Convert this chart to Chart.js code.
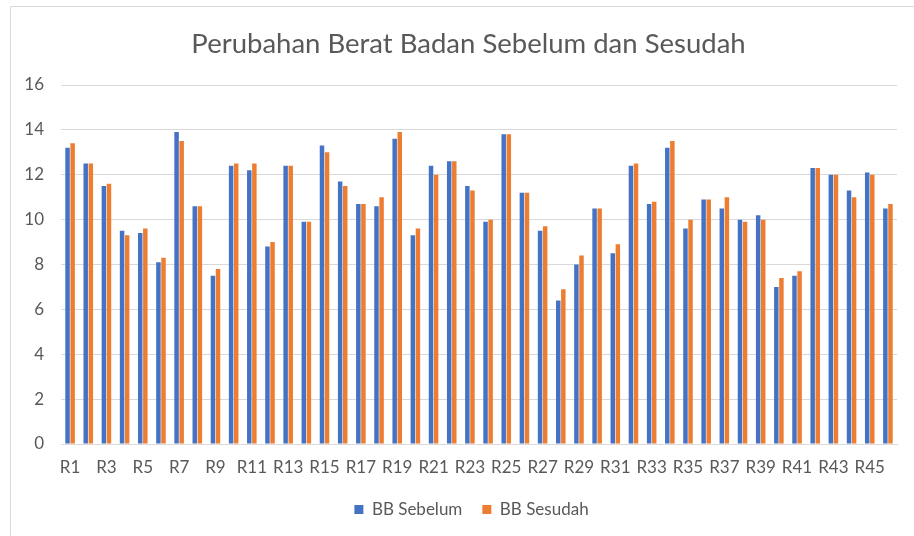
<!DOCTYPE html>
<html>
<head>
<meta charset="utf-8">
<script src="https://cdn.jsdelivr.net/npm/chart.js@4"></script>
<style>
  html, body { margin: 0; padding: 0; background: #fff; }
  #wrap { position: absolute; left: 0; top: 0; width: 914px; height: 536px; }
</style>
</head>
<body>
<div id="wrap"><canvas id="c" width="914" height="536"></canvas></div>
<script>
const categories = ["R1","R2","R3","R4","R5","R6","R7","R8","R9","R10","R11","R12","R13","R14","R15","R16","R17","R18","R19","R20","R21","R22","R23","R24","R25","R26","R27","R28","R29","R30","R31","R32","R33","R34","R35","R36","R37","R38","R39","R40","R41","R42","R43","R44","R45","R46"];
const bbSebelum = [13.2,12.5,11.5,9.5,9.4,8.1,13.9,10.6,7.5,12.4,12.2,8.8,12.4,9.9,13.3,11.7,10.7,10.6,13.6,9.3,12.4,12.6,11.5,9.9,13.8,11.2,9.5,6.4,8.0,10.5,8.5,12.4,10.7,13.2,9.6,10.9,10.5,10.0,10.2,7.0,7.5,12.3,12.0,11.3,12.1,10.5];
const bbSesudah = [13.4,12.5,11.6,9.3,9.6,8.3,13.5,10.6,7.8,12.5,12.5,9.0,12.4,9.9,13.0,11.5,10.7,11.0,13.9,9.6,12.0,12.6,11.3,10.0,13.8,11.2,9.7,6.9,8.4,10.5,8.9,12.5,10.8,13.5,10.0,10.9,11.0,9.9,10.0,7.4,7.7,12.3,12.0,11.0,12.0,10.7];
const yTicks = [0,2,4,6,8,10,12,14,16];
const chartTitle = 'Perubahan Berat Badan Sebelum dan Sesudah';

const FONT = "Lato, 'Open Sans', sans-serif";
const TXT = "#595959";

const framePlugin = {
  id: 'frame',
  afterLayout(chart) {
    if (chart.legend) {
      chart.legend.left += 23;
      chart.legend.right += 23;
    }
  },
  beforeDraw(chart) {
    const ctx = chart.ctx;
    ctx.save();
    ctx.strokeStyle = '#d9d9d9';
    ctx.lineWidth = 1;
    ctx.beginPath();
    ctx.moveTo(10.5, 536);
    ctx.lineTo(10.5, 6.5);
    ctx.lineTo(914, 6.5);
    ctx.stroke();
    ctx.restore();
  },
  afterDraw(chart) {
    const ctx = chart.ctx;
    ctx.save();
    ctx.fillStyle = TXT;
    ctx.font = "27.5px " + FONT;
    ctx.textAlign = 'center';
    ctx.textBaseline = 'middle';
    ctx.fillText(chartTitle, 468.5, 44.5);
    ctx.restore();
  }
};

new Chart(document.getElementById('c'), {
  type: 'bar',
  data: {
    labels: categories,
    datasets: [
      { label: 'BB Sebelum', data: bbSebelum, backgroundColor: '#4472C4', barPercentage: 0.88, categoryPercentage: 0.56 },
      { label: 'BB Sesudah', data: bbSesudah, backgroundColor: '#ED7D31', barPercentage: 0.88, categoryPercentage: 0.56 }
    ]
  },
  options: {
    responsive: false,
    animation: false,
    devicePixelRatio: 1,
    layout: { padding: { left: 0, right: 17, top: 85, bottom: 8 } },
    plugins: {
      title: { display: false },
      legend: {
        position: 'bottom',
        labels: {
          color: TXT,
          font: { family: FONT, size: 17 },
          boxWidth: 9,
          boxHeight: 9,
          padding: 20
        }
      },
      tooltip: { enabled: false }
    },
    scales: {
      x: {
        grid: { display: false, drawTicks: false },
        border: { display: true, color: '#d9d9d9' },
        ticks: {
          color: TXT,
          font: { family: FONT, size: 17 },
          padding: 13,
          maxRotation: 0,
          autoSkip: false,
          callback: function(v, i) { return i % 2 === 0 ? categories[i] : ''; }
        },
        afterFit(scale) { scale.height = 37; }
      },
      y: {
        min: 0, max: 16,
        afterBuildTicks(scale) { scale.ticks = yTicks.map(v => ({ value: v })); },
        grid: { color: '#d9d9d9', drawTicks: false },
        border: { display: false },
        ticks: {
          color: TXT,
          font: { family: FONT, size: 17 },
          padding: 17
        },
        afterFit(scale) { scale.width = 61; }
      }
    }
  },
  plugins: [framePlugin]
});
</script>
</body>
</html>
